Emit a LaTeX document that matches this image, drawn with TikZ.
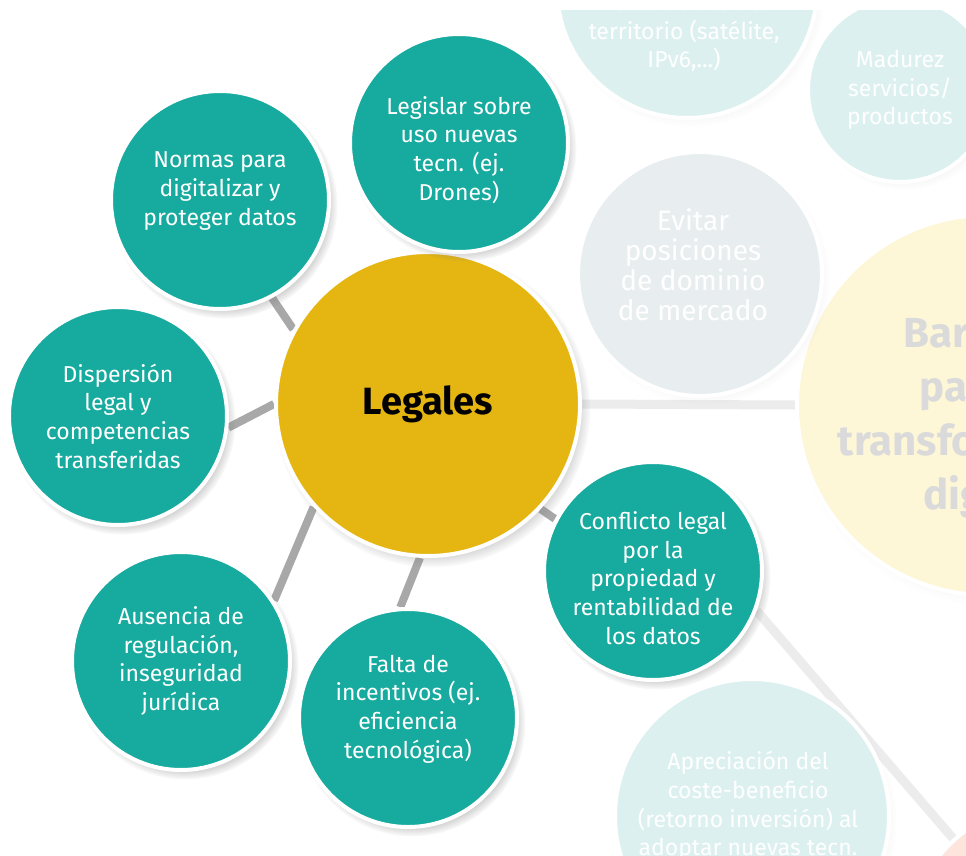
\documentclass[tikz,border=0pt]{standalone}
\usepackage{fontspec}
\setmainfont{Fira Sans}
\usetikzlibrary{shadows}
\pgfdeclarelayer{fconnL}
\pgfdeclarelayer{bgL}
\pgfdeclarelayer{connL}
\pgfsetlayers{fconnL,bgL,connL,main}
\definecolor{tealA}{RGB}{23,170,158}
\definecolor{goldA}{RGB}{229,182,17}
\definecolor{fteal}{RGB}{220,241,239}
\definecolor{fgrey}{RGB}{232,238,240}
\definecolor{fyellow}{RGB}{253,247,216}
\definecolor{fpink}{RGB}{253,228,221}
\definecolor{connA}{RGB}{168,168,168}
\definecolor{fconn}{RGB}{236,236,236}
\definecolor{ftext}{RGB}{218,218,218}
\begin{document}
\begin{tikzpicture}[x=1pt,y=-1pt,
  bubble/.style={circle, inner sep=0pt, draw=white, line width=4pt,
    circular drop shadow={shadow xshift=4pt, shadow yshift=-5pt, shadow scale=1.04, opacity=0.6}},
  fbubble/.style={circle, inner sep=0pt, draw=white, line width=4pt,
    circular drop shadow={shadow xshift=4pt, shadow yshift=-5pt, shadow scale=1.03, opacity=0.10}},
  tealc/.style={bubble, fill=tealA, minimum size=218pt},
  tealtxt/.style={text=white, align=center, font=\fontsize{23}{28.7}\selectfont},
  ftxt/.style={text=white, align=center, font=\fontsize{23}{28.7}\selectfont},
  conn/.style={draw=connA, line width=8pt},
  fconnS/.style={draw=fconn, line width=9pt}
]
\useasboundingbox (0,0) rectangle (966,856);
\clip (0,0) rectangle (966,856);

% faded background circles
\begin{pgfonlayer}{bgL}
\node[fbubble, fill=fpink, minimum size=256pt] (pink) at (1040,935) {};
\node[fbubble, fill=fyellow, minimum size=380pt] (barreras) at (987,405) {};
\node[text=ftext, align=center, font=\bfseries\fontsize{42}{54}\selectfont] at (985,419) {Barreras\\para la\\transformación\\digital};
\node[fbubble, fill=fteal, minimum size=260pt] (territorio) at (687,-12) {};
\node[ftxt] at (684,32) {necesidades del\\territorio (satélite,\\IPv6,...)};
\node[fbubble, fill=fteal, minimum size=184pt] (madurez) at (900,90) {};
\node[ftxt] at (madurez.center) {Madurez\\servicios/\\productos};
\node[fbubble, fill=fgrey, minimum size=244pt] (evitar) at (700,274) {};
\node[text=white, align=center, font=\fontsize{28}{30}\selectfont] at ([xshift=-7pt,yshift=9pt]evitar.center) {Evitar\\posiciones\\de dominio\\de mercado};
\node[fbubble, fill=fteal, minimum size=274pt] (apreciacion) at (752,816) {};
\node[ftxt] at (748,806) {Apreciación del\\coste-beneficio\\(retorno inversión) al\\adoptar nuevas tecn.};
% top white band
\fill[white] (0,0) rectangle (966,10);
\end{pgfonlayer}

% main cluster
\node[bubble, fill=goldA, minimum size=304pt, font=\bfseries\fontsize{38}{44}\selectfont] (legales) at (428,404) {Legales};
\node[tealc] (normas) at (220,200) {};
\node[tealtxt] at ([yshift=9pt]normas.center) {Normas para\\digitalizar y\\proteger datos};
\node[tealc] (legislar) at (459,143) {};
\node[tealtxt] at ([yshift=-7pt]legislar.center) {Legislar sobre\\uso nuevas\\tecn. (ej.\\Drones)};
\node[tealc] (dispersion) at (118,416) {};
\node[tealtxt] at (dispersion.center) {Dispersión\\legal y\\competencias\\transferidas};
\node[tealc] (ausencia) at (181,661) {};
\node[tealtxt] at (ausencia.center) {Ausencia de\\regulación,\\inseguridad\\jurídica};
\node[tealc] (falta) at (408,718) {};
\node[tealtxt] at ([yshift=9pt]falta.center) {Falta de\\incentivos (ej.\\eficiencia\\tecnológica)};
\node[tealc] (conflicto) at (653,571) {};
\node[tealtxt] at ([yshift=-7pt]conflicto.center) {Conflicto legal\\por la\\propiedad y\\rentabilidad de\\los datos};

% connectors
\begin{pgfonlayer}{fconnL}
\fill[white] (0,0) rectangle (966,856);
\draw[fconnS] (legales.east) -- (barreras.west);
\draw[fconnS] (conflicto.-21) -- (pink.132);
\end{pgfonlayer}
\begin{pgfonlayer}{connL}
\draw[conn] (normas.298) -- (legales.151);
\draw[conn] (dispersion.-6) -- (legales.180);
\draw[conn] (ausencia.33) -- (legales.222);
\draw[conn] (falta.94) -- (legales.267);
\draw[conn] (conflicto.152) -- (legales.-43);
\end{pgfonlayer}
\end{tikzpicture}
\end{document}
